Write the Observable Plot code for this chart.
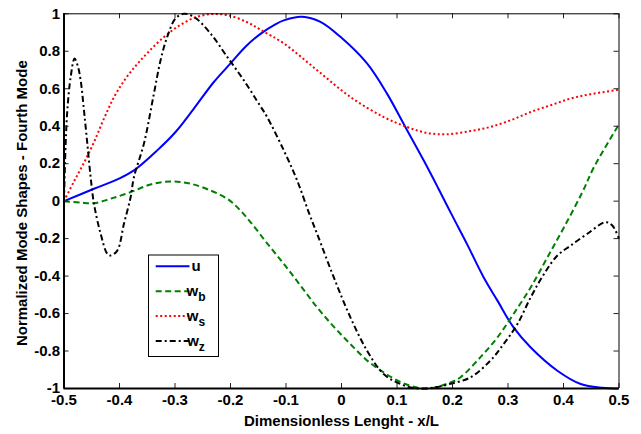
<!DOCTYPE html>
<html>
<head>
<meta charset="utf-8">
<script src="https://cdn.jsdelivr.net/npm/d3@7"></script>
<script src="https://cdn.jsdelivr.net/npm/@observablehq/plot@0.6"></script>
<style>
  html, body { margin: 0; padding: 0; background: #fff; }
</style>
</head>
<body>
<div id="chart"></div>
<script>
// ---- data ----
const uX  = [-0.5, -0.446, -0.401, -0.374, -0.332, -0.299, -0.266, -0.230, -0.200, -0.173, -0.146, -0.120, -0.104, -0.071, -0.038, -0.002, 0.046, 0.082, 0.115, 0.148, 0.175, 0.200, 0.226, 0.256, 0.281, 0.310, 0.341, 0.389, 0.431, 0.470, 0.5];
const uY  = [0, 0.066, 0.12, 0.164, 0.271, 0.369, 0.494, 0.636, 0.735, 0.824, 0.893, 0.942, 0.965, 0.984, 0.957, 0.877, 0.735, 0.574, 0.396, 0.218, 0.065, -0.08, -0.228, -0.406, -0.531, -0.674, -0.781, -0.905, -0.976, -0.996, -1.0];

const wbX = [-0.5, -0.47, -0.446, -0.416, -0.380, -0.344, -0.308, -0.272, -0.236, -0.206, -0.188, -0.164, -0.134, -0.104, -0.074, -0.044, -0.014, 0.016, 0.046, 0.076, 0.106, 0.136, 0.160, 0.196, 0.214, 0.250, 0.281, 0.310, 0.341, 0.371, 0.401, 0.434, 0.455, 0.5];
const wbY = [0, -0.008, -0.011, 0.013, 0.048, 0.089, 0.105, 0.093, 0.057, 0.013, -0.032, -0.112, -0.225, -0.335, -0.45, -0.567, -0.67, -0.763, -0.85, -0.914, -0.965, -0.995, -1.0, -0.968, -0.941, -0.834, -0.727, -0.602, -0.46, -0.3, -0.139, 0.048, 0.182, 0.41];

const wsX = [-0.5, -0.482, -0.464, -0.446, -0.428, -0.410, -0.390, -0.370, -0.350, -0.326, -0.296, -0.266, -0.236, -0.206, -0.170, -0.146, -0.104, -0.044, 0.016, 0.076, 0.118, 0.154, 0.190, 0.232, 0.268, 0.305, 0.341, 0.377, 0.413, 0.449, 0.5];
const wsY = [0, 0.105, 0.205, 0.315, 0.44, 0.555, 0.65, 0.725, 0.79, 0.86, 0.93, 0.978, 0.998, 0.993, 0.955, 0.915, 0.842, 0.699, 0.556, 0.449, 0.396, 0.364, 0.357, 0.374, 0.396, 0.432, 0.476, 0.512, 0.548, 0.571, 0.595];

const wzX = [-0.5, -0.497, -0.494, -0.488, -0.481, -0.475, -0.470, -0.464, -0.458, -0.452, -0.446, -0.434, -0.422, -0.416, -0.404, -0.392, -0.380, -0.374, -0.356, -0.338, -0.326, -0.314, -0.299, -0.284, -0.266, -0.236, -0.206, -0.176, -0.146, -0.134, -0.104, -0.080, -0.059, -0.044, -0.014, 0.016, 0.046, 0.076, 0.106, 0.136, 0.166, 0.196, 0.232, 0.268, 0.292, 0.317, 0.341, 0.365, 0.389, 0.413, 0.443, 0.476, 0.488, 0.5];
const wzY = [0, 0.307, 0.485, 0.663, 0.761, 0.72, 0.645, 0.485, 0.307, 0.128, -0.014, -0.174, -0.281, -0.29, -0.264, -0.121, 0.021, 0.128, 0.307, 0.574, 0.752, 0.877, 0.975, 1.0, 0.984, 0.895, 0.77, 0.645, 0.506, 0.449, 0.271, 0.111, -0.06, -0.174, -0.406, -0.62, -0.798, -0.923, -0.976, -1.0, -0.995, -0.975, -0.941, -0.852, -0.763, -0.656, -0.513, -0.388, -0.29, -0.237, -0.174, -0.112, -0.13, -0.2];

const xTicks = [-0.5, -0.4, -0.3, -0.2, -0.1, 0, 0.1, 0.2, 0.3, 0.4, 0.5];
const xTickLabels = ["-0.5", "-0.4", "-0.3", "-0.2", "-0.1", "0", "0.1", "0.2", "0.3", "0.4", "0.5"];
const yTicks = [-1, -0.8, -0.6, -0.4, -0.2, 0, 0.2, 0.4, 0.6, 0.8, 1];
const yTickLabels = ["-1", "-0.8", "-0.6", "-0.4", "-0.2", "0", "0.2", "0.4", "0.6", "0.8", "1"];

const seriesNames = ["u", "w", "w", "w"];
const seriesSubs = ["", "b", "s", "z"];
const seriesColors = ["#0000ff", "#008000", "#ff0000", "#000000"];
const seriesDash = [null, "6,3.5", "2,2.5", "6,3,2,3"];

const xTitle = "Dimensionless Lenght - x/L";
const yTitle = "Normalized Mode Shapes - Fourth Mode";

// ---- build ----
const toRows = (xs, ys) => xs.map((x, i) => ({x, y: ys[i]}));
const series = [toRows(uX, uY), toRows(wbX, wbY), toRows(wsX, wsY), toRows(wzX, wzY)];

const W = 641, H = 434;
const mL = 63.5, mR = 22.5, mT = 13.3, mB = 46;
const plotW = W - mL - mR, plotH = H - mT - mB;
const xFmt = new Map(xTicks.map((t, i) => [t, xTickLabels[i]]));
const yFmt = new Map(yTicks.map((t, i) => [t, yTickLabels[i]]));
const font = "'Liberation Sans', Arial, Helvetica, sans-serif";

const lineMarks = series.map((rows, i) => Plot.line(rows, {
  x: "x", y: "y", stroke: seriesColors[i], strokeWidth: 2,
  strokeDasharray: seriesDash[i], strokeLinecap: "butt", curve: "catmull-rom"
}));

const chart = Plot.plot({
  width: W, height: H,
  marginLeft: mL, marginRight: mR, marginTop: mT, marginBottom: mB,
  style: {fontFamily: font, fontWeight: "bold", fontSize: "15px", background: "#fff", color: "#000", overflow: "visible"},
  x: {domain: [-0.5, 0.5]},
  y: {domain: [-1, 1]},
  marks: [
    ...lineMarks,
    Plot.tickX(xTicks, {x: d => d, insetTop: plotH - 5, stroke: "#222", strokeWidth: 1}),
    Plot.tickX(xTicks, {x: d => d, insetBottom: plotH - 5, stroke: "#222", strokeWidth: 1}),
    Plot.tickY(yTicks, {y: d => d, insetRight: plotW - 5, stroke: "#222", strokeWidth: 1}),
    Plot.tickY(yTicks, {y: d => d, insetLeft: plotW - 5, stroke: "#222", strokeWidth: 1}),
    Plot.ruleX([0.5], {stroke: "#000", strokeWidth: 1}),
    Plot.ruleY([1], {stroke: "#000", strokeWidth: 1}),
    Plot.ruleX([-0.5], {stroke: "#000", strokeWidth: 2}),
    Plot.ruleY([-1], {stroke: "#000", strokeWidth: 2}),
    Plot.axisX(xTicks, {tickSize: 0, tickPadding: 6, tickFormat: d => xFmt.get(d), label: null, fontSize: 15, fontWeight: "bold"}),
    Plot.axisY(yTicks, {tickSize: 0, tickPadding: 4, tickFormat: d => yFmt.get(d), label: null, fontSize: 15, fontWeight: "bold"}),
    Plot.text([xTitle], {text: d => d, frameAnchor: "bottom", textAnchor: "middle", lineAnchor: "bottom", dy: 37, fontSize: 15, fontWeight: "bold"}),
    Plot.text([yTitle], {text: d => d, frameAnchor: "left", textAnchor: "middle", lineAnchor: "bottom", rotate: -90, dx: -37.5, dy: 2, fontSize: 15, fontWeight: "bold"})
  ]
});

document.getElementById("chart").appendChild(chart);

// ---- legend (inside the plot, lower-left) ----
const svg = d3.select(chart);
const lg = svg.append("g").attr("font-family", font).attr("font-weight", "bold");
lg.append("rect")
  .attr("x", 148.5).attr("y", 255).attr("width", 70).attr("height", 101.5)
  .attr("fill", "#fff").attr("stroke", "#000").attr("stroke-width", 1);
series.forEach((_, i) => {
  const yy = 266.3 + i * 24.9;
  lg.append("line")
    .attr("x1", 155.7).attr("x2", 189.5).attr("y1", yy).attr("y2", yy)
    .attr("stroke", seriesColors[i]).attr("stroke-width", 2)
    .attr("stroke-dasharray", seriesDash[i]);
  const t = lg.append("text").attr("x", 196).attr("y", yy + 5).attr("font-size", 15).attr("fill", "#000");
  t.append("tspan").text(seriesNames[i]);
  if (seriesSubs[i]) t.append("tspan").attr("dy", 5).attr("font-size", 12).text(seriesSubs[i]);
});
</script>
</body>
</html>
